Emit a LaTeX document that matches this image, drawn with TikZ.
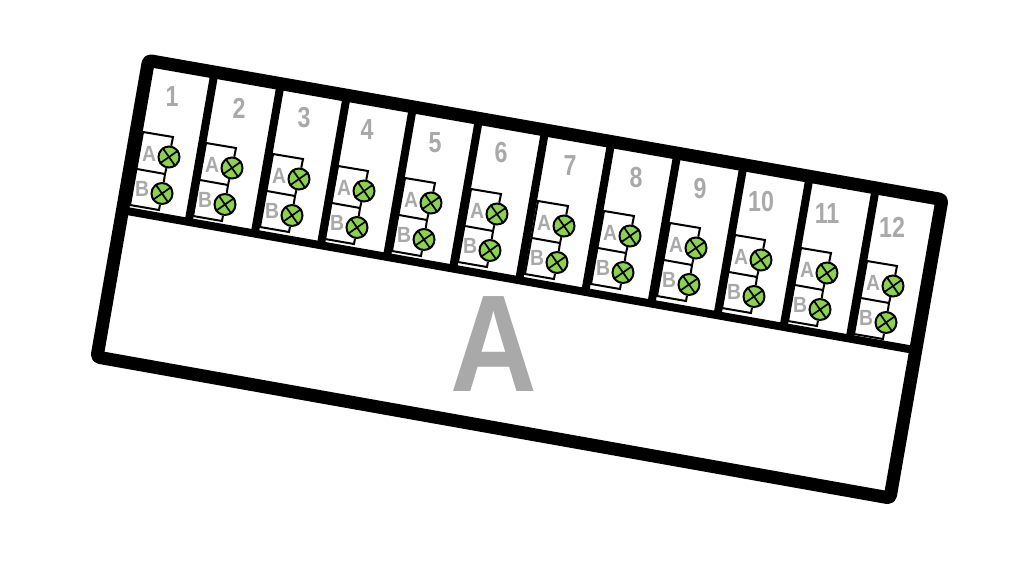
\documentclass[tikz,border=0pt]{standalone}
\usepackage{fontspec}
\setmainfont{Liberation Sans}
\usetikzlibrary{calc}
\definecolor{lampgreen}{HTML}{8CD24E}
\definecolor{labelgray}{HTML}{A9A9A9}
\tikzset{
  frameline/.style={line width=13pt,line join=round,rounded corners=3pt},
  sepline/.style={line width=8pt},
  wire/.style={line width=2pt,line join=miter},
  lamp/.style={circle,draw=black,line width=2pt,fill=lampgreen,minimum size=21pt,inner sep=0pt},
  cross/.style={line width=1.7pt},
  smalltext/.style={text=labelgray,font=\bfseries\fontsize{22}{22}\selectfont,inner sep=0pt,xscale=.88},
  numtext/.style={text=labelgray,font=\bfseries\fontsize{29}{29}\selectfont,inner sep=0pt,xscale=.8},
  bigtext/.style={text=labelgray,font=\bfseries\fontsize{138}{138}\selectfont,inner sep=0pt,xscale=.87}
}
\begin{document}
\begin{tikzpicture}[x=1pt,y=-1pt]
\useasboundingbox[fill=white] (0,0) rectangle (1024,563);
\coordinate (tl) at (148.5,60.5);
\coordinate (tr) at (942,199.5);
\coordinate (br) at (890,498);
\coordinate (bl) at (97,357);
\coordinate (sl) at ($(tl)!0.505!(bl)$);
\coordinate (sr) at ($(tr)!0.505!(br)$);
\foreach \k in {1,...,11}{
  \coordinate (dt\k) at ($(tl)!\k/12!(tr)$);
  \coordinate (db\k) at ($(sl)!\k/12!(sr)$);
  \draw[sepline] (dt\k) -- (db\k);
}
\draw[sepline] (sl) -- (sr);
\draw[frameline] (tl) -- (tr) -- (br) -- (bl) -- cycle;
\node[bigtext] (big) at (494,344) {A};
\foreach \i/\ax/\ay/\nx/\ny in {1/169/157/172/97,2/232/168/239/108,3/299/179/304/118,4/364/191/367/130,5/431/203/435/143,6/497/214/501/153,7/564/226/570/166,8/630/236/636/178,9/696/248/700/189,10/761/260/761/202,11/827/273/827/214,12/893/286/892/227}{
  \node[numtext] (n\i) at (\nx,\ny) {\i};
  \node[lamp] (la\i) at (\ax,\ay) {};
  \node[lamp] (lb\i) at (\ax-7,\ay+36.5) {};
  \draw[cross] (la\i.35) -- (la\i.215) (la\i.125) -- (la\i.305);
  \draw[cross] (lb\i.35) -- (lb\i.215) (lb\i.125) -- (lb\i.305);
  \node[smalltext] (ta\i) at (\ax-20,\ay-3) {A};
  \node[smalltext] (tb\i) at (\ax-27,\ay+32) {B};
  \coordinate (c1\i) at (\ax+4,\ay-20);
  \coordinate (c2\i) at (\ax-26,\ay-25);
  \coordinate (c3\i) at (\ax-39,\ay+48);
  \coordinate (c4\i) at (\ax-10,\ay+53);
  \coordinate (m1\i) at (\ax-32,\ay+12);
  \coordinate (m2\i) at (\ax-4,\ay+17);
  \draw[wire] (la\i) -- (c1\i) -- (c2\i) -- (c3\i) -- (c4\i) -- (lb\i);
  \draw[wire] (la\i) -- (m2\i) -- (m1\i);
  \draw[wire] (m2\i) -- (lb\i);
}
\end{tikzpicture}
\end{document}
